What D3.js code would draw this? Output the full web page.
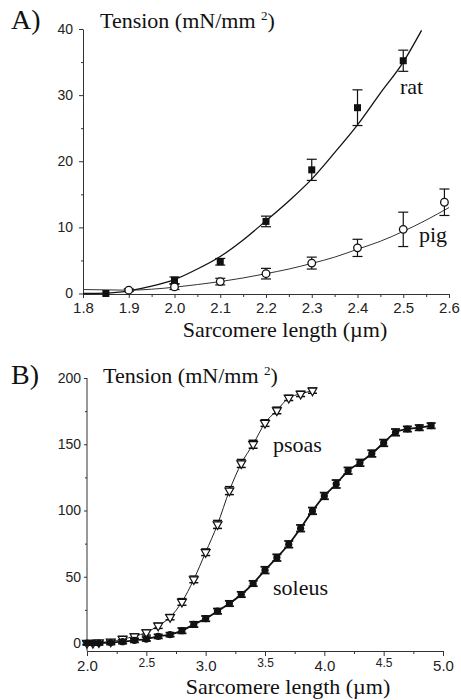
<!DOCTYPE html>
<html>
<head>
<meta charset="utf-8">
<script src="https://cdn.jsdelivr.net/npm/d3@7"></script>
<style>
  body { margin: 0; background: #fff; }
  svg { display: block; }
  .tick text { font-family: "Liberation Sans", Arial, sans-serif; fill: #222; }
  .title { font-family: "Liberation Serif", "Times New Roman", serif; fill: #111; }
</style>
</head>
<body>
<svg id="chart" width="461" height="700"></svg>
<script>
// panel A : passive tension, rat vs pig
const ratX = [1.85, 2.0, 2.1, 2.2, 2.3, 2.4, 2.5];
const ratY = [0, 2.0, 4.8, 10.9, 18.7, 28.1, 35.2];
const ratErr = [0, 0.5, 0.5, 0.8, 1.6, 2.7, 1.6];
const ratFitX = [1.8, 1.85, 1.9, 1.95, 2.0, 2.05, 2.1, 2.15, 2.2, 2.25, 2.3, 2.35, 2.4, 2.45, 2.5, 2.54];
const ratFitY = [0, 0.05, 0.4, 1.1, 2.1, 3.7, 5.6, 8.1, 11.0, 14.0, 17.3, 21.3, 25.5, 30.3, 35.0, 39.8];

const pigX = [1.9, 2.0, 2.1, 2.2, 2.3, 2.4, 2.5, 2.59];
const pigY = [0.5, 1.0, 1.8, 3.0, 4.6, 6.9, 9.7, 13.8];
const pigErr = [0.2, 0.4, 0.5, 0.8, 0.9, 1.3, 2.6, 2.0];
const pigFitX = [1.8, 1.85, 1.9, 1.95, 2.0, 2.05, 2.1, 2.15, 2.2, 2.25, 2.3, 2.35, 2.4, 2.45, 2.5, 2.55, 2.6];
const pigFitY = [0.6, 0.55, 0.5, 0.65, 0.95, 1.35, 1.8, 2.35, 3.0, 3.7, 4.55, 5.5, 6.7, 7.9, 9.4, 11.1, 13.0];

const aXTicks = [1.8, 1.9, 2.0, 2.1, 2.2, 2.3, 2.4, 2.5, 2.6];
const aYTicks = [0, 10, 20, 30, 40];

// panel B : active tension, psoas vs soleus
const psoasX = [2.0, 2.05, 2.1, 2.2, 2.3, 2.4, 2.5, 2.6, 2.7, 2.8, 2.9, 3.0, 3.1, 3.2, 3.3, 3.4, 3.5, 3.6, 3.7, 3.8, 3.9];
const psoasY = [0, 0, 0.5, 1, 3, 5, 8, 13, 19.5, 31, 48, 68.5, 89.5, 115, 135.5, 150, 166, 175.5, 185, 188, 190.5];
const psoasErr = [1, 1, 1, 1.5, 2, 2, 2, 2, 2, 2.5, 2.5, 2.5, 3, 3, 3, 3, 2.5, 2.5, 2, 2, 2];

const soleusX = [2.0, 2.05, 2.1, 2.2, 2.3, 2.4, 2.5, 2.6, 2.7, 2.8, 2.9, 3.0, 3.1, 3.2, 3.3, 3.4, 3.5, 3.6, 3.7, 3.8, 3.9, 4.0, 4.1, 4.2, 4.3, 4.4, 4.5, 4.6, 4.7, 4.8, 4.9];
const soleusY = [0, 0, 0, 0.3, 1, 2, 3, 5, 6.3, 9.3, 14, 18.4, 24, 29.8, 36.6, 44.9, 55, 64.4, 74.5, 86.6, 99.7, 111, 120, 130, 136, 143, 151, 159, 161.5, 162.5, 164];
const soleusErr = [1.5, 1.5, 1.5, 1.5, 1.5, 1.5, 1.5, 1.5, 1.5, 2, 2, 2, 2, 2, 2, 2, 2.5, 2.5, 2.5, 2.5, 2.5, 2.5, 3, 2.5, 2.5, 2.5, 2.5, 2.5, 2, 2, 2];

const bXTicks = [2.0, 2.5, 3.0, 3.5, 4.0, 4.5, 5.0];
const bYTicks = [0, 50, 100, 150, 200];

const svg = d3.select("svg#chart");
svg.append("rect").attr("width", 461).attr("height", 700).attr("fill", "#fff");

function zip(xs, ys, es) {
    return xs.map(function (x, i) { return { x: x, y: ys[i], e: es ? es[i] : 0 }; });
}

function title(g, x, y) {
    const t = g.append("text").attr("class", "title").attr("x", x).attr("y", y).attr("font-size", 22);
    t.append("tspan").text("Tension (mN/mm ");
    t.append("tspan").attr("font-size", 13).attr("dy", -8).text("2");
    t.append("tspan").attr("dy", 8).text(")");
}

function errorBars(g, data, x, y, cap, width) {
    const eb = g.append("g").attr("stroke", "#111").attr("stroke-width", width);
    data.filter(function (d) { return d.e > 0; }).forEach(function (d) {
        const cx = x(d.x), y0 = y(d.y - d.e), y1 = y(d.y + d.e);
        eb.append("line").attr("x1", cx).attr("x2", cx).attr("y1", y0).attr("y2", y1);
        eb.append("line").attr("x1", cx - cap).attr("x2", cx + cap).attr("y1", y0).attr("y2", y0);
        eb.append("line").attr("x1", cx - cap).attr("x2", cx + cap).attr("y1", y1).attr("y2", y1);
    });
}

// ---------- panel A ----------
const xA = d3.scaleLinear().domain([1.8, 2.6]).range([83, 449]);
const yA = d3.scaleLinear().domain([0, 40]).range([293.5, 29]);
const gA = svg.append("g");

gA.append("g").attr("transform", "translate(0,294)")
    .call(d3.axisBottom(xA).tickValues(d3.range(1.85, 2.6, 0.1)).tickSize(3).tickFormat(""))
    .call(function (g) { g.select(".domain").remove(); g.selectAll("line").attr("stroke", "#333"); });
gA.append("g").attr("transform", "translate(0,294)")
    .call(d3.axisBottom(xA).tickValues(aXTicks).tickSize(4).tickSizeOuter(0).tickPadding(4).tickFormat(d3.format(".1f")))
    .call(function (g) {
        g.select(".domain").attr("stroke", "#333");
        g.selectAll("line").attr("stroke", "#333");
        g.selectAll("text").attr("font-size", 15);
    });
gA.append("g").attr("transform", "translate(83,0)")
    .call(d3.axisLeft(yA).tickValues([5, 15, 25, 35]).tickSize(2).tickFormat(""))
    .call(function (g) { g.select(".domain").remove(); g.selectAll("line").attr("stroke", "#333"); });
gA.append("g").attr("transform", "translate(83,0)")
    .call(d3.axisLeft(yA).tickValues(aYTicks).tickSize(4).tickSizeOuter(0).tickPadding(6))
    .call(function (g) {
        g.select(".domain").attr("stroke", "#333");
        g.selectAll("line").attr("stroke", "#333");
        g.selectAll("text").attr("font-size", 14);
    });

const lineA = d3.line().x(function (d) { return xA(d.x); }).y(function (d) { return yA(d.y); }).curve(d3.curveMonotoneX);
gA.append("path").datum(zip(pigFitX, pigFitY)).attr("d", lineA)
    .attr("fill", "none").attr("stroke", "#333").attr("stroke-width", 1);
gA.append("path").datum(zip(ratFitX, ratFitY)).attr("d", lineA)
    .attr("fill", "none").attr("stroke", "#111").attr("stroke-width", 1.3);

const rat = zip(ratX, ratY, ratErr);
const pig = zip(pigX, pigY, pigErr);
errorBars(gA, rat, xA, yA, 5, 1.2);
errorBars(gA, pig, xA, yA, 5, 1.2);

gA.selectAll("rect.rat").data(rat).join("rect").attr("class", "rat")
    .attr("x", function (d) { return xA(d.x) - 3.5; })
    .attr("y", function (d) { return yA(d.y) - 3.5; })
    .attr("width", 7).attr("height", 7).attr("fill", "#111");
gA.selectAll("circle.pig").data(pig).join("circle").attr("class", "pig")
    .attr("cx", function (d) { return xA(d.x); })
    .attr("cy", function (d) { return yA(d.y); })
    .attr("r", 3.8).attr("fill", "#fff").attr("stroke", "#111").attr("stroke-width", 1.3);

gA.append("text").attr("class", "title").attr("x", 11).attr("y", 29).attr("font-size", 28).text("A)");
title(gA, 100, 28);
gA.append("text").attr("class", "title").attr("x", 400).attr("y", 94).attr("font-size", 22).text("rat");
gA.append("text").attr("class", "title").attr("x", 419).attr("y", 242).attr("font-size", 22).text("pig");
gA.append("text").attr("class", "title").attr("x", 285).attr("y", 337).attr("font-size", 22)
    .attr("text-anchor", "middle").text("Sarcomere length (µm)");

// ---------- panel B ----------
const xB = d3.scaleLinear().domain([2.0, 5.0]).range([87, 443]);
const yB = d3.scaleLinear().domain([0, 200]).range([643, 378]);
const gB = svg.append("g");

gB.append("g").attr("transform", "translate(0,651)")
    .call(d3.axisBottom(xB).tickValues(d3.range(2.25, 5, 0.5)).tickSize(3).tickFormat(""))
    .call(function (g) { g.select(".domain").remove(); g.selectAll("line").attr("stroke", "#333"); });
gB.append("g").attr("transform", "translate(0,651)")
    .call(d3.axisBottom(xB).tickValues(bXTicks).tickSize(5).tickSizeOuter(0).tickPadding(4).tickFormat(d3.format(".1f")))
    .call(function (g) {
        g.select(".domain").attr("stroke", "#333");
        g.selectAll("line").attr("stroke", "#333");
        g.selectAll("text").attr("font-size", function (d) { return Math.round(d * 10) % 10 === 5 ? 12 : 15; })
            .attr("dy", function (d) { return Math.round(d * 10) % 10 === 5 ? "0.6em" : "0.71em"; });
    });
gB.append("g").attr("transform", "translate(87,0)")
    .call(d3.axisLeft(yB).tickValues([25, 75, 125, 175]).tickSize(2).tickFormat(""))
    .call(function (g) { g.select(".domain").remove(); g.selectAll("line").attr("stroke", "#333"); });
gB.append("g").attr("transform", "translate(87,0)")
    .call(d3.axisLeft(yB).tickValues(bYTicks).tickSize(3).tickSizeOuter(0).tickPadding(3))
    .call(function (g) {
        g.select(".domain").attr("d", "M0," + yB(200) + "V651").attr("stroke", "#333");
        g.selectAll("line").attr("stroke", "#333");
        g.selectAll("text").attr("font-size", 14);
    });

const lineB = d3.line().x(function (d) { return xB(d.x); }).y(function (d) { return yB(d.y); }).curve(d3.curveMonotoneX);
const psoas = zip(psoasX, psoasY, psoasErr);
const soleus = zip(soleusX, soleusY, soleusErr);
gB.append("path").datum(psoas).attr("d", lineB)
    .attr("fill", "none").attr("stroke", "#222").attr("stroke-width", 1);
gB.append("path").datum(soleus).attr("d", lineB)
    .attr("fill", "none").attr("stroke", "#111").attr("stroke-width", 1.8);

errorBars(gB, psoas, xB, yB, 4.5, 1.5);
errorBars(gB, soleus, xB, yB, 4.5, 1.8);

const tri = d3.symbol().type(d3.symbolTriangle).size(34);
gB.selectAll("path.psoas").data(psoas).join("path").attr("class", "psoas")
    .attr("d", tri)
    .attr("transform", function (d) { return "translate(" + xB(d.x) + "," + yB(d.y) + ") rotate(180)"; })
    .attr("fill", "#fff").attr("stroke", "#111").attr("stroke-width", 1.2);
gB.selectAll("circle.soleus").data(soleus).join("circle").attr("class", "soleus")
    .attr("cx", function (d) { return xB(d.x); })
    .attr("cy", function (d) { return yB(d.y); })
    .attr("r", 3.6).attr("fill", "#111");

gB.append("text").attr("class", "title").attr("x", 11).attr("y", 384).attr("font-size", 28).text("B)");
title(gB, 103, 383);
gB.append("text").attr("class", "title").attr("x", 273).attr("y", 452).attr("font-size", 22).text("psoas");
gB.append("text").attr("class", "title").attr("x", 273).attr("y", 595).attr("font-size", 22).text("soleus");
gB.append("text").attr("class", "title").attr("x", 288).attr("y", 694).attr("font-size", 22)
    .attr("text-anchor", "middle").text("Sarcomere length (µm)");
</script>
</body>
</html>
